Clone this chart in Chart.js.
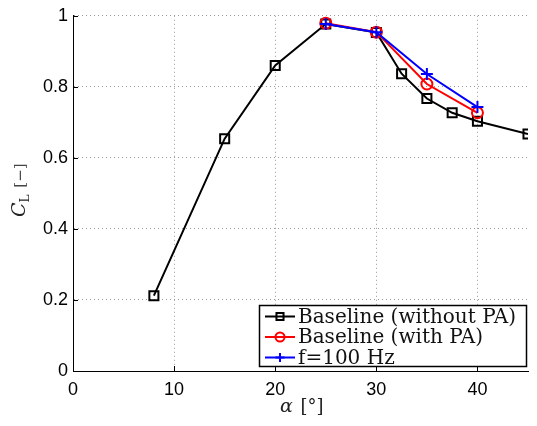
<!DOCTYPE html>
<html><head><meta charset="utf-8">
<script src="https://cdn.jsdelivr.net/npm/chart.js@4.4.0/dist/chart.umd.min.js"></script>
<style>html,body{margin:0;padding:0;background:#fff;}#wrap{width:537px;height:426px;}</style>
</head><body><div id="wrap"><canvas id="c" width="537" height="426"></canvas></div>
<script>
const alphaBase = [8, 15, 20, 25, 30, 32.5, 35, 37.5, 40, 45];
const clBase    = [0.212, 0.654, 0.860, 0.977, 0.953, 0.837, 0.767, 0.727, 0.703, 0.667];
const alphaPA   = [25, 30, 35, 40];
const clPA      = [0.979, 0.954, 0.808, 0.727];
const alphaF100 = [25, 30, 35, 40];
const clF100    = [0.977, 0.954, 0.836, 0.743];
const xTicks = [0, 10, 20, 30, 40];
const yTicks = [0, 0.2, 0.4, 0.6, 0.8, 1];
const seriesNames = ['Baseline (without PA)', 'Baseline (with PA)', 'f=100 Hz'];

const pts = (xs, ys) => xs.map((x, i) => ({x: x, y: ys[i]}));

const insideTicks = {
  id: 'insideTicks',
  afterDatasetsDraw(chart) {
    const ctx = chart.ctx, xs = chart.scales.x, ys = chart.scales.y, a = chart.chartArea;
    ctx.save();
    ctx.strokeStyle = '#000'; ctx.lineWidth = 1;
    ctx.beginPath();
    xTicks.forEach(v => { const px = Math.round(xs.getPixelForValue(v)) + 0.5; ctx.moveTo(px, a.bottom); ctx.lineTo(px, a.bottom - 5); });
    yTicks.forEach(v => { const py = Math.round(ys.getPixelForValue(v)) + 0.5; ctx.moveTo(a.left, py); ctx.lineTo(a.left + 5, py); });
    ctx.stroke();
    ctx.restore();
  }
};

const legendBox = {
  id: 'legendBox',
  afterDraw(chart) {
    const ctx = chart.ctx;
    const x0 = 259, y0 = 305, w = 267, h = 61;
    ctx.save();
    ctx.fillStyle = '#fff'; ctx.fillRect(x0, y0, w, h);
    ctx.strokeStyle = '#000'; ctx.lineWidth = 1.5; ctx.strokeRect(x0 + 0.5, y0 + 0.5, w, h);
    const rows = [316.5, 337, 357.5];
    chart.data.datasets.forEach((ds, i) => {
      const y = rows[i];
      ctx.strokeStyle = ds.borderColor; ctx.lineWidth = 2;
      ctx.beginPath(); ctx.moveTo(265, y); ctx.lineTo(295, y); ctx.stroke();
      ctx.fillStyle = 'rgba(0,0,0,0)';
      ctx.lineWidth = ds.pointBorderWidth;
      Chart.helpers.drawPoint(ctx, {pointStyle: ds.pointStyle, rotation: 0, radius: ds.pointStyle === 'rect' ? 5 : 4.5, borderWidth: ds.pointBorderWidth}, 280, y);
      ctx.fillStyle = '#111';
      ctx.font = '20px "DejaVu Serif"';
      ctx.textBaseline = 'middle';
      ctx.fillText(seriesNames[i], 298, y + 1);
    });
    ctx.restore();
  }
};

const axisTitles = {
  id: 'axisTitles',
  afterDraw(chart) {
    const ctx = chart.ctx;
    ctx.save();
    ctx.fillStyle = '#222';
    ctx.textBaseline = 'alphabetic';
    ctx.font = 'italic 19px "DejaVu Serif"';
    ctx.fillText('\u03B1', 280, 412);
    let wa = ctx.measureText('\u03B1').width;
    ctx.font = '18px "DejaVu Serif"';
    ctx.fillText(' [\u00B0]', 280 + wa + 2, 412);
    ctx.translate(25, 217);
    ctx.rotate(-Math.PI / 2);
    ctx.font = 'italic 19px "DejaVu Serif"';
    ctx.fillText('C', 0, 0);
    let wc = ctx.measureText('C').width;
    ctx.font = '12px "DejaVu Serif"';
    ctx.fillText('L', wc, 4);
    let wl = ctx.measureText('L').width;
    ctx.font = '15px "DejaVu Serif"';
    ctx.fillStyle = '#444';
    ctx.fillText(' [\u2212]', wc + wl + 2, 0);
    ctx.restore();
  }
};

new Chart(document.getElementById('c'), {
  type: 'scatter',
  data: {
    datasets: [
      {label: seriesNames[0], data: pts(alphaBase, clBase), showLine: true, borderColor: '#000', backgroundColor: 'rgba(0,0,0,0)',
       borderWidth: 2, pointStyle: 'rect', pointRadius: 6.4, pointBorderWidth: 2, pointBorderColor: '#000', pointBackgroundColor: 'rgba(0,0,0,0)', order: 3},
      {label: seriesNames[1], data: pts(alphaPA, clPA), showLine: true, borderColor: '#ff0000', backgroundColor: 'rgba(0,0,0,0)',
       borderWidth: 2, pointStyle: 'circle', pointRadius: 5.5, pointBorderWidth: 2, pointBorderColor: '#ff0000', pointBackgroundColor: 'rgba(0,0,0,0)', order: 2},
      {label: seriesNames[2], data: pts(alphaF100, clF100), showLine: true, borderColor: '#0000ff', backgroundColor: 'rgba(0,0,0,0)',
       borderWidth: 2, pointStyle: 'cross', pointRadius: 6, pointBorderWidth: 2, pointBorderColor: '#0000ff', pointBackgroundColor: 'rgba(0,0,0,0)', order: 1}
    ]
  },
  options: {
    responsive: false, animation: false, devicePixelRatio: 1,
    layout: {padding: {top: 13, right: 9, left: 0, bottom: 0}},
    plugins: {legend: {display: false}, tooltip: {enabled: false}},
    scales: {
      x: {
        type: 'linear', min: 0, max: 45,
        afterBuildTicks: s => { s.ticks = xTicks.map(v => ({value: v})); },
        afterFit: s => { s.height = 55; },
        grid: {color: '#999', lineWidth: 1, drawTicks: false},
        border: {display: true, color: '#000', width: 1, dash: [1, 3]},
        ticks: {color: '#000', font: {family: '"Liberation Sans"', size: 18}, padding: 8, maxRotation: 0}
      },
      y: {
        type: 'linear', min: 0, max: 1,
        afterBuildTicks: s => { s.ticks = yTicks.map(v => ({value: v})); },
        afterFit: s => { s.width = 73; },
        grid: {color: '#999', lineWidth: 1, drawTicks: false},
        border: {display: true, color: '#000', width: 1, dash: [1, 3]},
        ticks: {color: '#000', font: {family: '"Liberation Sans"', size: 18}, padding: 5,
                callback: v => (v === 0 || v === 1) ? String(v) : v.toFixed(1)}
      }
    }
  },
  plugins: [insideTicks, legendBox, axisTitles]
});
</script>
</body></html>
